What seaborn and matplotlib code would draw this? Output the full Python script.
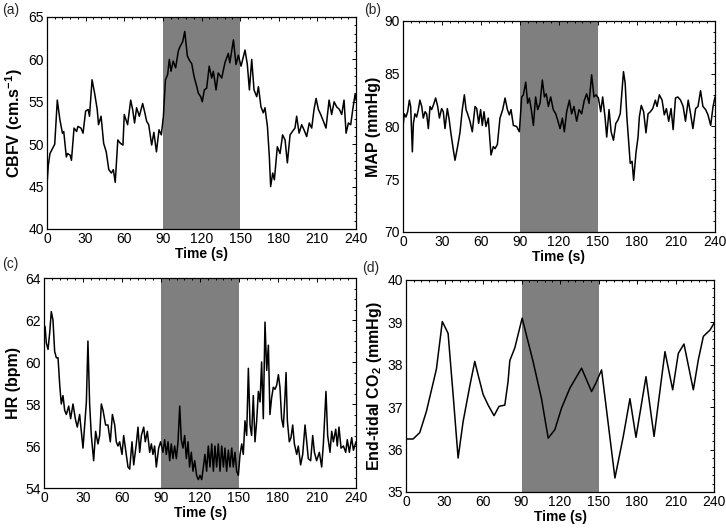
import matplotlib
matplotlib.use("Agg")
import numpy as np
import pandas as pd
import matplotlib.pyplot as plt
import seaborn as sns
from matplotlib.ticker import MultipleLocator

# ---------------- data (time s, value) ----------------
cbfv_points = [
    (0, 45.2), (1, 47.5), (2.3, 48.9), (5, 49.7), (6, 50.0), (8, 55.2), (10, 52.9),
    (12, 51.3), (13, 51.5), (15, 48.5), (16, 48.9), (18, 48.7), (19, 48.1), (21, 51.9),
    (23, 51.5), (24, 52.1), (26.4, 51.9), (28, 51.3), (30, 53.9), (32, 54.1), (33, 53.3),
    (35, 57.6), (37, 56.0), (39, 54.1), (40, 52.3), (42, 53.3), (44, 50.1), (46, 49.1),
    (48, 47.0), (50, 46.6), (51.5, 47.0), (53, 45.5), (55, 50.5), (57, 50.1), (59, 49.9),
    (60, 53.5), (62.6, 52.3), (65, 55.2), (66.5, 54.1), (68, 52.5), (69.6, 54.3),
    (71.7, 53.3), (74.3, 54.8), (76, 53.7), (77.4, 52.7), (79, 52.3), (81.3, 49.9),
    (83, 51.4), (85, 49.1), (87, 51.7), (88.8, 51.1), (90.4, 53.3), (92, 57.6),
    (93.7, 58.2), (95, 60.0), (96.3, 58.6), (98, 59.8), (99.9, 59.0), (102, 61.0),
    (103.3, 61.5), (105.4, 62.1), (107, 63.3), (109, 60.4), (111, 59.8), (112.4, 59.5),
    (114.2, 58.0), (116.3, 56.8), (117.6, 56.0), (119.4, 55.6), (120.6, 55.0),
    (122.2, 56.4), (124, 56.6), (126, 59.2), (127.9, 57.8), (129.2, 58.6), (131.3, 56.4),
    (133, 58.4), (135.7, 57.8), (138.2, 59.6), (140.8, 60.7), (142, 59.6), (144.8, 62.3),
    (146.8, 59.4), (148.6, 60.5), (150.7, 59.2), (153.8, 61.1), (155.6, 59.4),
    (157.2, 56.4), (159, 60.0), (160.8, 56.4), (162.9, 55.6), (164.2, 56.8),
    (166.2, 54.4), (168, 53.7), (169.3, 54.3), (171.2, 52.1), (172.7, 48.5),
    (173.7, 45.0), (175.3, 46.6), (176.6, 45.8), (178.9, 49.7), (181, 48.9), (183, 51.1),
    (184.9, 50.5), (186.7, 47.8), (188.8, 51.1), (190.6, 51.5), (192.6, 51.9),
    (193.9, 53.3), (195.8, 51.3), (197.8, 52.3), (199.6, 51.7), (201.7, 50.9),
    (203.7, 52.5), (205.6, 51.9), (207.4, 54.1), (209, 55.4), (210.8, 54.1),
    (212.6, 53.5), (214.7, 52.7), (216.7, 51.9), (219.1, 55.2), (221.1, 53.5),
    (223, 55.0), (225, 54.4), (227.1, 54.1), (228.9, 53.5), (230.7, 55.2), (232.3, 51.3),
    (234.1, 52.5), (235.9, 52.3), (237.5, 54.1), (239.3, 55.9), (240, 55.2),
]

map_points = [
    (0, 80.0), (1, 81.2), (2.3, 80.9), (3.6, 81.4), (4.9, 82.5), (5.9, 81.9), (7.2, 77.6),
    (8, 80.3), (9.2, 81.2), (10.5, 80.9), (11.8, 81.6), (13, 82.5), (14.4, 81.9),
    (15.6, 80.8), (17, 81.4), (18.2, 81.2), (19.5, 79.8), (20.8, 81.9), (22, 81.6),
    (23.3, 82.0), (25.1, 82.7), (26.7, 81.9), (28, 80.8), (29.7, 81.7), (31, 81.4),
    (32.3, 79.8), (34.1, 81.7), (35.6, 80.6), (36.7, 79.5), (38.7, 77.8), (40, 76.8),
    (42, 78.1), (43.8, 79.4), (45.6, 81.6), (47.2, 83.0), (48.5, 81.6), (49.7, 81.2),
    (51.5, 80.5), (53.3, 79.5), (55.4, 81.9), (56.7, 81.7), (58.2, 80.3), (59.7, 81.6),
    (61, 80.1), (62.3, 81.4), (63.8, 80.0), (65.6, 80.8), (67.7, 77.3), (69.5, 78.1),
    (70.8, 77.9), (72.6, 78.3), (74.6, 80.8), (76.7, 81.6), (78.5, 82.7), (80.3, 81.6),
    (81.8, 81.1), (83.1, 81.6), (84.9, 80.1), (87.4, 80.0), (89.5, 79.5), (91.3, 82.8),
    (92.6, 83.0), (94.4, 84.2), (95.9, 82.2), (97.2, 82.7), (98.7, 81.6), (100.3, 80.1),
    (102, 82.8), (103.6, 81.6), (105.4, 82.2), (107.2, 84.4), (108.8, 82.8), (110.2, 83.1),
    (111.8, 81.9), (113.6, 82.8), (115.6, 81.6), (117.5, 81.2), (119, 80.6),
    (120.8, 79.8), (122.6, 80.8), (124.1, 79.5), (125.9, 81.4), (128, 82.5),
    (129.7, 81.2), (131.5, 81.9), (133.6, 80.5), (135.4, 81.6), (137.4, 81.2),
    (139.5, 82.5), (141.3, 83.1), (143.1, 82.2), (145.1, 84.9), (146.9, 82.8),
    (148.5, 83.0), (150.3, 82.7), (152.1, 81.4), (153.6, 82.8), (155.4, 80.9),
    (156.7, 79.0), (158.5, 81.6), (160.1, 79.5), (161.9, 78.7), (163.7, 80.3),
    (165.3, 80.6), (167.1, 81.2), (168.4, 83.3), (169.6, 85.2), (170.9, 84.1),
    (172.2, 80.9), (173.5, 78.7), (174.8, 76.5), (176.2, 76.7), (177.4, 74.9),
    (179.2, 77.5), (180.8, 79.0), (181.8, 80.9), (183.3, 82.0), (185.1, 81.4),
    (186.9, 79.4), (188.5, 81.2), (190.3, 81.4), (192.1, 81.7), (194.1, 82.5),
    (195.4, 81.9), (197.2, 83.0), (199.3, 82.5), (201.0, 81.1), (202.6, 81.7),
    (204.4, 80.5), (206.2, 81.7), (207.8, 79.7), (209.6, 82.7), (211.4, 82.8),
    (213.5, 82.5), (215.5, 81.9), (217.3, 80.5), (219.4, 82.5), (221.2, 81.2),
    (223.0, 79.8), (225.1, 81.7), (226.9, 81.9), (228.9, 83.4), (230.7, 81.9),
    (232.8, 81.6), (234.6, 81.1), (236.7, 80.1), (238.5, 81.9), (240, 82.8),
]

hr_points = [
    (0, 61.3), (0.8, 61.7), (1.8, 60.9), (3.1, 60.6), (4.4, 61.4), (5.6, 62.4), (6.9, 62.0),
    (8.2, 60.5), (9.5, 60.2), (10.8, 60.2), (12.1, 58.9), (13.3, 58.0), (14.6, 58.4),
    (15.9, 57.7), (17.2, 57.5), (19, 57.9), (20.5, 57.3), (22.3, 58.0), (24.1, 57.3),
    (25.6, 56.9), (27.4, 57.5), (28.7, 56.7), (30, 55.9), (31.3, 57.0), (32.6, 58.1),
    (33.8, 61.0), (35.1, 58.0), (36.4, 56.5), (38.2, 55.3), (39.7, 56.7), (41.5, 56.1),
    (42.8, 56.5), (44.1, 58.0), (45.4, 57.7), (47.4, 57.0), (49.2, 57.0), (51, 56.2),
    (52.6, 57.5), (54.4, 57.0), (55.6, 56.2), (56.9, 56.0), (58.2, 56.2), (60, 55.6),
    (61.3, 56.5), (62.8, 55.8), (64.6, 55.0), (65.9, 54.9), (67.7, 56.2), (69, 55.1),
    (71, 56.1), (72.3, 56.9), (73.6, 55.7), (74.9, 56.5), (76.7, 56.9), (77.9, 56.2),
    (79.5, 56.7), (81.3, 55.7), (82.6, 56.1), (83.8, 55.6), (85.1, 56.0), (86.4, 55.0),
    (88.2, 55.9), (89.7, 56.2), (91.5, 55.7), (92.8, 56.3), (94.1, 55.6), (95.4, 56.2),
    (96.7, 55.3), (97.9, 56.1), (99.2, 55.4), (100.5, 56.0), (101.8, 55.4), (103.1, 56.2),
    (104.4, 57.9), (105.6, 56.3), (106.9, 55.9), (108.2, 56.5), (109.5, 55.4),
    (110.8, 56.2), (112, 55.0), (113.3, 55.7), (114.6, 54.8), (115.9, 55.3),
    (117.4, 54.6), (118.7, 54.4), (120, 54.6), (121.3, 54.4), (122.6, 55.0),
    (123.8, 55.6), (125.1, 54.8), (126.4, 56.0), (127.7, 55.0), (129, 56.1),
    (130.3, 54.8), (131.5, 56.0), (132.8, 55.0), (134.1, 56.1), (135.4, 54.8),
    (136.7, 56.0), (138, 55.0), (139.2, 55.9), (140.5, 54.8), (141.8, 55.8),
    (143.1, 55.0), (144.4, 55.9), (145.6, 55.0), (146.9, 55.7), (148.2, 54.8),
    (149.5, 54.6), (150.8, 55.6), (152.1, 56.1), (153.3, 55.6), (154.6, 57.2),
    (155.9, 56.5), (157.2, 59.7), (158.5, 57.0), (159.7, 56.5), (161, 58.4),
    (162.3, 56.2), (163.6, 57.2), (164.9, 58.6), (166.2, 58.1), (167.4, 60.0),
    (168.7, 57.3), (170, 61.9), (171.3, 59.6), (172.6, 60.8), (173.8, 57.5),
    (175.1, 58.3), (176.4, 58.8), (177.7, 58.7), (179, 58.9), (180.3, 59.4),
    (181.5, 58.8), (182.8, 57.3), (184.1, 56.9), (185.4, 58.4), (186.2, 59.5),
    (187.2, 57.2), (188.7, 56.2), (190, 56.4), (191.3, 57.0), (192.6, 56.1),
    (194.4, 55.6), (195.6, 56.0), (197.4, 55.1), (199, 55.6), (200.8, 57.0),
    (202.1, 56.2), (203.3, 55.4), (205.1, 55.3), (206.7, 56.5), (208, 55.7),
    (209.7, 55.3), (211.8, 55.7), (213.6, 55.0), (214.9, 56.1), (216.9, 58.6),
    (218.2, 56.5), (220, 55.7), (221.3, 56.7), (222.6, 56.2), (224.4, 56.8),
    (225.6, 56.0), (226.9, 56.9), (228.5, 55.9), (230.3, 56.0), (232.1, 55.7),
    (233.3, 56.3), (234.9, 55.7), (236.7, 56.4), (238, 55.8), (240, 56.2),
]

etco2_points = [
    (0, 36.25), (5.5, 36.25), (10.7, 36.4), (15.9, 36.9), (19.8, 37.4), (23.7, 37.9),
    (28.3, 39.02), (30.9, 38.86), (32.8, 38.74), (36.7, 37.3), (40.6, 35.8), (44.5, 36.66),
    (49.7, 37.5), (53.6, 38.08), (56.2, 37.76), (60.1, 37.3), (64, 37.05), (68.6, 36.8),
    (72.5, 37.02), (77.0, 37.05), (79.5, 37.6), (80.9, 38.1), (84.8, 38.4), (90.5, 39.1),
    (99, 38.08), (105.6, 37.2), (110.8, 36.27), (116, 36.47), (121.2, 36.98),
    (127.7, 37.45), (136.8, 37.92), (144.6, 37.37), (148, 37.57), (152.4, 37.88),
    (162.8, 35.33), (169.3, 36.31), (174.5, 37.2), (179.2, 36.29), (187, 37.72),
    (193.3, 36.31), (201.8, 38.31), (207.8, 37.41), (212.2, 38.27), (216.6, 38.49),
    (223.9, 37.41), (227.8, 38.12), (231.7, 38.67), (236.9, 38.82), (240, 38.98),
]

panel_letters = ["(a)", "(b)", "(c)", "(d)"]
y_labels = ["CBFV (cm.s$^{-1}$)", "MAP (mmHg)", "HR (bpm)", "End-tidal CO$_2$ (mmHg)"]
y_limits = [(40, 65), (70, 90), (54, 64), (35, 40)]
y_major = [5, 5, 2, 1]
y_minor = [1, 1, 0.5, 0.2]
x_ticks = [0, 30, 60, 90, 120, 150, 180, 210, 240]
shade_span = (90, 150)

# ---------------- style ----------------
sns.set_theme(style="white")
plt.rcParams["font.family"] = ["Liberation Sans", "DejaVu Sans"]
plt.rcParams["mathtext.fontset"] = "custom"
plt.rcParams["mathtext.rm"] = "Liberation Sans:bold"
plt.rcParams["mathtext.it"] = "Liberation Sans:bold:italic"
plt.rcParams["mathtext.bf"] = "Liberation Sans:bold"

fig = plt.figure(figsize=(7.26, 5.29), dpi=100)
W, H = 726, 529
boxes = [(47, 17, 356, 229), (403, 21, 715, 232), (44, 278, 356, 488), (406, 280, 714, 492)]
letter_pos = [(2, 10), (364, 10), (2, 264), (362, 268)]

datasets = [cbfv_points, map_points, hr_points, etco2_points]

for i, pts in enumerate(datasets):
    x0, y0, x1, y1 = boxes[i]
    ax = fig.add_axes([x0 / W, 1 - y1 / H, (x1 - x0) / W, (y1 - y0) / H])
    df = pd.DataFrame(pts, columns=["t", "v"])
    ax.axvspan(*shade_span, color="#7f7f7f", lw=0, zorder=0)
    sns.lineplot(data=df, x="t", y="v", ax=ax, color="black", lw=1.1,
                 estimator=None, sort=False, zorder=3)
    ax.set_xlim(0, 240)
    ax.set_ylim(*y_limits[i])
    ax.set_xticks(x_ticks)
    ax.yaxis.set_major_locator(MultipleLocator(y_major[i]))
    ax.yaxis.set_minor_locator(MultipleLocator(y_minor[i]))
    ax.xaxis.set_minor_locator(MultipleLocator(6))
    ax.tick_params(which="both", direction="in", top=True, right=True,
                   colors="black", labelcolor="black", width=0.7)
    ax.tick_params(which="major", length=3, labelsize=10, pad=2)
    ax.tick_params(which="minor", length=1.5)
    for sp in ax.spines.values():
        sp.set_color("black")
        sp.set_linewidth(0.9)
    ax.set_xlabel("Time (s)", fontsize=10, fontweight="bold", labelpad=1, color="black")
    ax.set_ylabel(y_labels[i], fontsize=11.5, fontweight="bold", labelpad=3, color="black")
    lx, ly = letter_pos[i]
    fig.text(lx / W, 1 - ly / H, panel_letters[i], fontsize=10, va="center", ha="left")

fig.savefig("out.png", dpi=100)
